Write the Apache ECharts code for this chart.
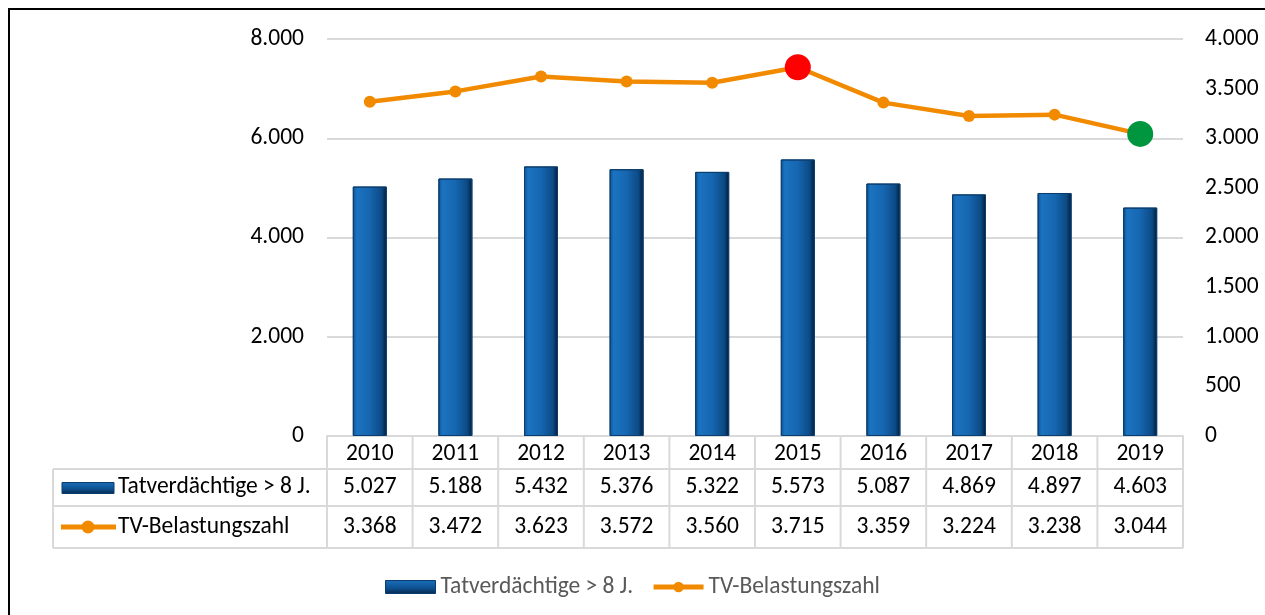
<!DOCTYPE html>
<html>
<head>
<meta charset="utf-8">
<script src="https://cdn.jsdelivr.net/npm/echarts@6/dist/echarts.min.js"></script>
<style>
  html, body { margin: 0; padding: 0; background: #fff; }
  #main { width: 1265px; height: 615px; }
</style>
</head>
<body>
<div id="main"></div>
<script>
// Daten
var years = ['2010', '2011', '2012', '2013', '2014', '2015', '2016', '2017', '2018', '2019'];
var suspects = [5027, 5188, 5432, 5376, 5322, 5573, 5087, 4869, 4897, 4603];
var burden = [3368, 3472, 3623, 3572, 3560, 3715, 3359, 3224, 3238, 3044];
var seriesNames = ['Tatverdächtige > 8 J.', 'TV-Belastungszahl'];

var font = 'Carlito, "Liberation Sans", Arial, sans-serif';
var fs = 23.5;
var gridColor = '#d9d9d9';
var orange = '#f28a00';

function fmt(v) {
    var s = String(Math.round(v));
    return s.replace(/\B(?=(\d{3})+(?!\d))/g, '.');
}

// max rot, min grün hervorheben
var maxIdx = burden.indexOf(Math.max.apply(null, burden));
var minIdx = burden.indexOf(Math.min.apply(null, burden));
var lineData = burden.map(function (v, i) {
    if (i === maxIdx) return { value: v, symbolSize: 26, itemStyle: { color: '#ff0000' } };
    if (i === minIdx) return { value: v, symbolSize: 26, itemStyle: { color: '#00963f' } };
    return v;
});

var barColor = new echarts.graphic.LinearGradient(0, 0, 1, 0, [
    { offset: 0, color: '#0d5193' },
    { offset: 0.12, color: '#1b73c0' },
    { offset: 0.5, color: '#1666b0' },
    { offset: 0.85, color: '#0c4a85' },
    { offset: 1, color: '#031a33' }
]);
var iconColor = new echarts.graphic.LinearGradient(0, 0, 0, 1, [
    { offset: 0, color: '#1a70bb' }, { offset: 0.6, color: '#0d4f8e' }, { offset: 1, color: '#06264a' }
]);

var myChart = echarts.init(document.getElementById('main'));
var option = {
    animation: false,
    textStyle: { fontFamily: font },
    grid: { left: 327, right: 82, top: 39, bottom: 179 },
    legend: {
        left: 380,
        top: 570,
        itemWidth: 50,
        itemHeight: 13,
        itemGap: 18,
        textStyle: { color: '#595959', fontSize: fs, fontFamily: font },
        data: [
            { name: seriesNames[0], icon: 'rect', itemStyle: { color: iconColor, borderColor: '#0a3d6e', borderWidth: 1 } },
            { name: seriesNames[1], itemStyle: { color: orange }, lineStyle: { width: 5, color: orange } }
        ]
    },
    xAxis: {
        type: 'category',
        data: years,
        axisLine: { lineStyle: { color: gridColor, width: 2 } },
        axisTick: { show: false },
        axisLabel: { color: '#000', fontSize: fs, margin: 6, fontFamily: font }
    },
    yAxis: [{
        type: 'value',
        min: 0,
        max: 8000,
        interval: 2000,
        axisLabel: { color: '#000', fontSize: fs, margin: 23, formatter: fmt, fontFamily: font },
        splitLine: { lineStyle: { color: gridColor, width: 2 } }
    }, {
        type: 'value',
        min: 0,
        max: 4000,
        interval: 500,
        axisLabel: { color: '#000', fontSize: fs, margin: 22, formatter: fmt, fontFamily: font },
        splitLine: { show: false }
    }],
    series: [{
        name: seriesNames[0],
        type: 'bar',
        data: suspects,
        barWidth: 34,
        itemStyle: { color: barColor, borderColor: '#0a3d6e', borderWidth: 1 }
    }, {
        name: seriesNames[1],
        type: 'line',
        yAxisIndex: 1,
        data: lineData,
        symbol: 'circle',
        symbolSize: 12,
        itemStyle: { color: orange },
        lineStyle: { color: orange, width: 4.5 }
    }]
};
myChart.setOption(option);

// Datentabelle unter der Achse
function buildTable() {
    var els = [];
    var c0 = myChart.convertToPixel({ xAxisIndex: 0 }, 0);
    var c1 = myChart.convertToPixel({ xAxisIndex: 0 }, 1);
    var w = c1 - c0;
    var x0 = c0 - w / 2;
    var x1 = x0 + w * years.length;
    var top = myChart.convertToPixel({ yAxisIndex: 0 }, 0);
    var rowH = [33, 37, 42];
    var y1 = top + rowH[0], y2 = y1 + rowH[1], y3 = y2 + rowH[2];
    var labelLeft = 53;
    var line = function (ax, ay, bx, by) {
        els.push({ type: 'line', shape: { x1: ax, y1: ay, x2: bx, y2: by },
            style: { stroke: gridColor, lineWidth: 2 }, z: 10 });
    };
    for (var k = 0; k <= years.length; k++) {
        line(x0 + k * w, top, x0 + k * w, y3);
    }
    line(labelLeft, y1, labelLeft, y3);
    line(labelLeft, y1, x1, y1);
    line(labelLeft, y2, x1, y2);
    line(labelLeft, y3, x1, y3);
    var rows = [suspects, burden];
    var rowMid = [(y1 + y2) / 2, (y2 + y3) / 2];
    rows.forEach(function (vals, r) {
        vals.forEach(function (v, i) {
            els.push({ type: 'text', x: x0 + w * (i + 0.5), y: rowMid[r], z: 11,
                style: { text: fmt(v), fill: '#000', font: fs + 'px ' + font, align: 'center', verticalAlign: 'middle' } });
        });
        els.push({ type: 'text', x: 118, y: rowMid[r], z: 11,
            style: { text: seriesNames[r], fill: '#000', font: fs + 'px ' + font, align: 'left', verticalAlign: 'middle' } });
    });
    // Legendensymbole in der Tabelle
    els.push({ type: 'rect', shape: { x: 62, y: rowMid[0] - 5, width: 52, height: 11 }, z: 11,
        style: { fill: iconColor, stroke: '#0a3d6e', lineWidth: 1 } });
    els.push({ type: 'line', shape: { x1: 61, y1: rowMid[1], x2: 116, y2: rowMid[1] }, z: 11,
        style: { stroke: orange, lineWidth: 5 } });
    els.push({ type: 'circle', shape: { cx: 88, cy: rowMid[1], r: 6.5 }, z: 12, style: { fill: orange } });
    // Rahmen
    els.push({ type: 'rect', shape: { x: 9, y: 9, width: 1270, height: 620 }, z: 20,
        style: { fill: 'none', stroke: '#000', lineWidth: 2 } });
    myChart.setOption({ graphic: els });
}
buildTable();
</script>
</body>
</html>
